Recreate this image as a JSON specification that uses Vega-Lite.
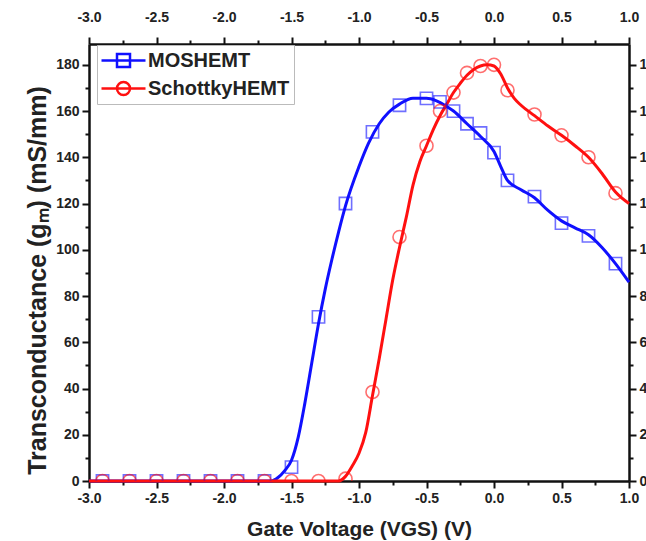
{
  "$schema": "https://vega.github.io/schema/vega-lite/v6.json",
  "autosize": "none",
  "width": 540,
  "height": 437,
  "padding": {"left": 89, "top": 44, "right": 17, "bottom": 60},
  "background": "white",
  "config": {
    "view": {"stroke": null},
    "font": "Liberation Sans",
    "axis": {
      "grid": false,
      "domainColor": "#111",
      "domainWidth": 2.5,
      "tickColor": "#111",
      "tickWidth": 2,
      "labelFont": "Liberation Sans",
      "labelFontSize": 14,
      "labelFontWeight": "bold",
      "labelColor": "#222",
      "labelOverlap": false,
      "labelFlush": false,
      "titleFont": "Liberation Sans",
      "titleFontWeight": "bold",
      "titleColor": "#222"
    }
  },
  "datasets": {
    "curves": [
      {"series": "MOSHEMT", "v": -3.0, "gm": 0},
      {"series": "MOSHEMT", "v": -1.65, "gm": 0},
      {"series": "MOSHEMT", "v": -1.6, "gm": 1.5},
      {"series": "MOSHEMT", "v": -1.55, "gm": 4.5},
      {"series": "MOSHEMT", "v": -1.5, "gm": 9},
      {"series": "MOSHEMT", "v": -1.45, "gm": 19},
      {"series": "MOSHEMT", "v": -1.4, "gm": 34},
      {"series": "MOSHEMT", "v": -1.35, "gm": 51},
      {"series": "MOSHEMT", "v": -1.3, "gm": 68},
      {"series": "MOSHEMT", "v": -1.25, "gm": 83},
      {"series": "MOSHEMT", "v": -1.2, "gm": 96},
      {"series": "MOSHEMT", "v": -1.15, "gm": 108},
      {"series": "MOSHEMT", "v": -1.1, "gm": 119},
      {"series": "MOSHEMT", "v": -1.0, "gm": 136},
      {"series": "MOSHEMT", "v": -0.93, "gm": 146},
      {"series": "MOSHEMT", "v": -0.85, "gm": 154.5},
      {"series": "MOSHEMT", "v": -0.78, "gm": 159.5},
      {"series": "MOSHEMT", "v": -0.7, "gm": 163},
      {"series": "MOSHEMT", "v": -0.6, "gm": 165.5},
      {"series": "MOSHEMT", "v": -0.5, "gm": 165.5},
      {"series": "MOSHEMT", "v": -0.43, "gm": 164.5},
      {"series": "MOSHEMT", "v": -0.35, "gm": 162},
      {"series": "MOSHEMT", "v": -0.3, "gm": 160},
      {"series": "MOSHEMT", "v": -0.2, "gm": 154.5},
      {"series": "MOSHEMT", "v": -0.1, "gm": 149},
      {"series": "MOSHEMT", "v": 0.0, "gm": 142.5},
      {"series": "MOSHEMT", "v": 0.05, "gm": 136},
      {"series": "MOSHEMT", "v": 0.1, "gm": 130},
      {"series": "MOSHEMT", "v": 0.2, "gm": 126},
      {"series": "MOSHEMT", "v": 0.3, "gm": 122.5},
      {"series": "MOSHEMT", "v": 0.4, "gm": 117},
      {"series": "MOSHEMT", "v": 0.5, "gm": 112.5},
      {"series": "MOSHEMT", "v": 0.6, "gm": 109.5},
      {"series": "MOSHEMT", "v": 0.7, "gm": 106.5},
      {"series": "MOSHEMT", "v": 0.8, "gm": 101},
      {"series": "MOSHEMT", "v": 0.9, "gm": 94},
      {"series": "MOSHEMT", "v": 1.0, "gm": 86},
      {"series": "SchottkyHEMT", "v": -3.0, "gm": 0},
      {"series": "SchottkyHEMT", "v": -1.15, "gm": 0},
      {"series": "SchottkyHEMT", "v": -1.1, "gm": 2},
      {"series": "SchottkyHEMT", "v": -1.05, "gm": 6.5},
      {"series": "SchottkyHEMT", "v": -1.0, "gm": 12},
      {"series": "SchottkyHEMT", "v": -0.95, "gm": 21},
      {"series": "SchottkyHEMT", "v": -0.9, "gm": 37},
      {"series": "SchottkyHEMT", "v": -0.85, "gm": 53},
      {"series": "SchottkyHEMT", "v": -0.8, "gm": 70},
      {"series": "SchottkyHEMT", "v": -0.75, "gm": 87},
      {"series": "SchottkyHEMT", "v": -0.7, "gm": 101},
      {"series": "SchottkyHEMT", "v": -0.65, "gm": 114},
      {"series": "SchottkyHEMT", "v": -0.6, "gm": 128},
      {"series": "SchottkyHEMT", "v": -0.55, "gm": 138},
      {"series": "SchottkyHEMT", "v": -0.5, "gm": 145},
      {"series": "SchottkyHEMT", "v": -0.45, "gm": 152},
      {"series": "SchottkyHEMT", "v": -0.4, "gm": 158},
      {"series": "SchottkyHEMT", "v": -0.35, "gm": 163},
      {"series": "SchottkyHEMT", "v": -0.3, "gm": 168},
      {"series": "SchottkyHEMT", "v": -0.25, "gm": 172},
      {"series": "SchottkyHEMT", "v": -0.2, "gm": 175.5},
      {"series": "SchottkyHEMT", "v": -0.15, "gm": 178},
      {"series": "SchottkyHEMT", "v": -0.1, "gm": 179.5},
      {"series": "SchottkyHEMT", "v": -0.05, "gm": 180},
      {"series": "SchottkyHEMT", "v": 0.0, "gm": 179.5},
      {"series": "SchottkyHEMT", "v": 0.05, "gm": 176},
      {"series": "SchottkyHEMT", "v": 0.1, "gm": 170},
      {"series": "SchottkyHEMT", "v": 0.15, "gm": 165.5},
      {"series": "SchottkyHEMT", "v": 0.2, "gm": 162.5},
      {"series": "SchottkyHEMT", "v": 0.3, "gm": 158},
      {"series": "SchottkyHEMT", "v": 0.4, "gm": 153.5},
      {"series": "SchottkyHEMT", "v": 0.5, "gm": 149.5},
      {"series": "SchottkyHEMT", "v": 0.6, "gm": 145},
      {"series": "SchottkyHEMT", "v": 0.7, "gm": 140},
      {"series": "SchottkyHEMT", "v": 0.8, "gm": 133},
      {"series": "SchottkyHEMT", "v": 0.9, "gm": 125},
      {"series": "SchottkyHEMT", "v": 1.0, "gm": 120}
    ],
    "points": [
      {"series": "MOSHEMT", "v": -2.9, "gm": 0},
      {"series": "MOSHEMT", "v": -2.7, "gm": 0},
      {"series": "MOSHEMT", "v": -2.5, "gm": 0},
      {"series": "MOSHEMT", "v": -2.3, "gm": 0},
      {"series": "MOSHEMT", "v": -2.1, "gm": 0},
      {"series": "MOSHEMT", "v": -1.9, "gm": 0},
      {"series": "MOSHEMT", "v": -1.7, "gm": 0},
      {"series": "MOSHEMT", "v": -1.5, "gm": 6},
      {"series": "MOSHEMT", "v": -1.3, "gm": 71},
      {"series": "MOSHEMT", "v": -1.1, "gm": 120},
      {"series": "MOSHEMT", "v": -0.9, "gm": 151},
      {"series": "MOSHEMT", "v": -0.7, "gm": 162.5},
      {"series": "MOSHEMT", "v": -0.5, "gm": 165.5},
      {"series": "MOSHEMT", "v": -0.4, "gm": 164},
      {"series": "MOSHEMT", "v": -0.3, "gm": 160},
      {"series": "MOSHEMT", "v": -0.2, "gm": 154.5},
      {"series": "MOSHEMT", "v": -0.1, "gm": 150.5},
      {"series": "MOSHEMT", "v": 0.0, "gm": 142},
      {"series": "MOSHEMT", "v": 0.1, "gm": 130},
      {"series": "MOSHEMT", "v": 0.3, "gm": 123},
      {"series": "MOSHEMT", "v": 0.5, "gm": 111.5},
      {"series": "MOSHEMT", "v": 0.7, "gm": 106},
      {"series": "MOSHEMT", "v": 0.9, "gm": 94},
      {"series": "SchottkyHEMT", "v": -2.9, "gm": 0},
      {"series": "SchottkyHEMT", "v": -2.7, "gm": 0},
      {"series": "SchottkyHEMT", "v": -2.5, "gm": 0},
      {"series": "SchottkyHEMT", "v": -2.3, "gm": 0},
      {"series": "SchottkyHEMT", "v": -2.1, "gm": 0},
      {"series": "SchottkyHEMT", "v": -1.9, "gm": 0},
      {"series": "SchottkyHEMT", "v": -1.7, "gm": 0},
      {"series": "SchottkyHEMT", "v": -1.5, "gm": 0},
      {"series": "SchottkyHEMT", "v": -1.3, "gm": 0},
      {"series": "SchottkyHEMT", "v": -1.1, "gm": 1},
      {"series": "SchottkyHEMT", "v": -0.9, "gm": 38.5},
      {"series": "SchottkyHEMT", "v": -0.7, "gm": 105.5},
      {"series": "SchottkyHEMT", "v": -0.5, "gm": 145},
      {"series": "SchottkyHEMT", "v": -0.4, "gm": 160},
      {"series": "SchottkyHEMT", "v": -0.3, "gm": 168},
      {"series": "SchottkyHEMT", "v": -0.2, "gm": 176.5},
      {"series": "SchottkyHEMT", "v": -0.1, "gm": 179.5},
      {"series": "SchottkyHEMT", "v": 0.0, "gm": 180},
      {"series": "SchottkyHEMT", "v": 0.1, "gm": 169},
      {"series": "SchottkyHEMT", "v": 0.3, "gm": 158.5},
      {"series": "SchottkyHEMT", "v": 0.5, "gm": 149.5},
      {"series": "SchottkyHEMT", "v": 0.7, "gm": 140},
      {"series": "SchottkyHEMT", "v": 0.9, "gm": 124.5}
    ]
  },
  "layer": [
    {
      "data": {"name": "curves"},
      "mark": {"type": "line", "interpolate": "monotone", "strokeWidth": 3},
      "encoding": {
        "x": {
          "field": "v", "type": "quantitative",
          "scale": {"domain": [-3, 1], "nice": false, "zero": false},
          "axis": {
            "orient": "bottom",
            "title": "Gate Voltage (VGS) (V)",
            "titleFontSize": 21,
            "titlePadding": 13,
            "values": [-3, -2.75, -2.5, -2.25, -2, -1.75, -1.5, -1.25, -1, -0.75, -0.5, -0.25, 0, 0.25, 0.5, 0.75, 1],
            "labelExpr": "datum.value % 0.5 === 0 ? (datum.value < 0 ? '-' : '') + format(abs(datum.value), '.1f') : ''",
            "tickSize": {"condition": {"test": "datum.value % 0.5 === 0", "value": 7}, "value": 4},
            "labelPadding": 3
          }
        },
        "y": {
          "field": "gm", "type": "quantitative",
          "scale": {"domain": [0, 189], "nice": false},
          "axis": {
            "orient": "left",
            "title": "Transconductance (gₘ) (mS/mm)",
            "titleFontSize": 25,
            "titlePadding": 5,
            "titleY": 236,
            "values": [0, 10, 20, 30, 40, 50, 60, 70, 80, 90, 100, 110, 120, 130, 140, 150, 160, 170, 180],
            "labelExpr": "datum.value % 20 === 0 ? datum.label : ''",
            "tickSize": {"condition": {"test": "datum.value % 20 === 0", "value": 7}, "value": 4},
            "labelPadding": 3
          }
        },
        "color": {
          "field": "series", "type": "nominal",
          "scale": {"domain": ["MOSHEMT", "SchottkyHEMT"], "range": ["#1010ff", "#ff1010"]},
          "legend": {
            "title": null,
            "orient": "none",
            "legendX": 8,
            "legendY": 1,
            "padding": 4,
            "strokeColor": "#bbbbbb",
            "fillColor": "white",
            "labelFont": "Liberation Sans",
            "labelFontSize": 20,
            "labelFontWeight": "bold",
            "labelColor": "#222",
            "labelOffset": 24,
            "rowPadding": 5,
            "symbolSize": 400,
            "symbolStrokeWidth": 2.5,
            "symbolFillColor": "transparent",
            "encode": {
              "symbols": {
                "update": {
                  "shape": {"signal": "datum.value === 'MOSHEMT' ? 'M-1.1,0H3.3M0.45,-0.65H1.75V0.65H0.45Z' : 'M-1.1,0H3.3M1.75,0A0.65,0.65 0 1,1 0.45,0A0.65,0.65 0 1,1 1.75,0Z'"},
                  "fill": {"value": "transparent"}
                }
              }
            }
          }
        }
      }
    },
    {
      "data": {"name": "points"},
      "transform": [{"filter": "datum.series === 'MOSHEMT'"}],
      "mark": {"type": "point", "shape": "square", "filled": false, "strokeWidth": 1.6, "opacity": 0.6, "clip": true, "size": 150},
      "encoding": {
        "x": {
          "field": "v", "type": "quantitative",
          "axis": {
            "orient": "top",
            "title": null,
            "values": [-3, -2.75, -2.5, -2.25, -2, -1.75, -1.5, -1.25, -1, -0.75, -0.5, -0.25, 0, 0.25, 0.5, 0.75, 1],
            "labelExpr": "datum.value % 0.5 === 0 ? (datum.value < 0 ? '-' : '') + format(abs(datum.value), '.1f') : ''",
            "tickSize": {"condition": {"test": "datum.value % 0.5 === 0", "value": 7}, "value": 4},
            "labelPadding": 13
          }
        },
        "y": {
          "field": "gm", "type": "quantitative",
          "axis": {
            "orient": "right",
            "title": null,
            "values": [0, 10, 20, 30, 40, 50, 60, 70, 80, 90, 100, 110, 120, 130, 140, 150, 160, 170, 180],
            "labelExpr": "datum.value % 20 === 0 ? datum.label : ''",
            "tickSize": {"condition": {"test": "datum.value % 20 === 0", "value": 7}, "value": 4},
            "labelPadding": 3
          }
        },
        "color": {"field": "series", "type": "nominal", "legend": null}
      }
    },
    {
      "data": {"name": "points"},
      "transform": [{"filter": "datum.series === 'SchottkyHEMT'"}],
      "mark": {"type": "point", "shape": "circle", "filled": false, "strokeWidth": 1.6, "opacity": 0.6, "clip": true, "size": 170},
      "encoding": {
        "x": {"field": "v", "type": "quantitative", "axis": null},
        "y": {"field": "gm", "type": "quantitative", "axis": null},
        "color": {"field": "series", "type": "nominal", "legend": null}
      }
    }
  ],
  "resolve": {"axis": {"x": "independent", "y": "independent"}}
}
